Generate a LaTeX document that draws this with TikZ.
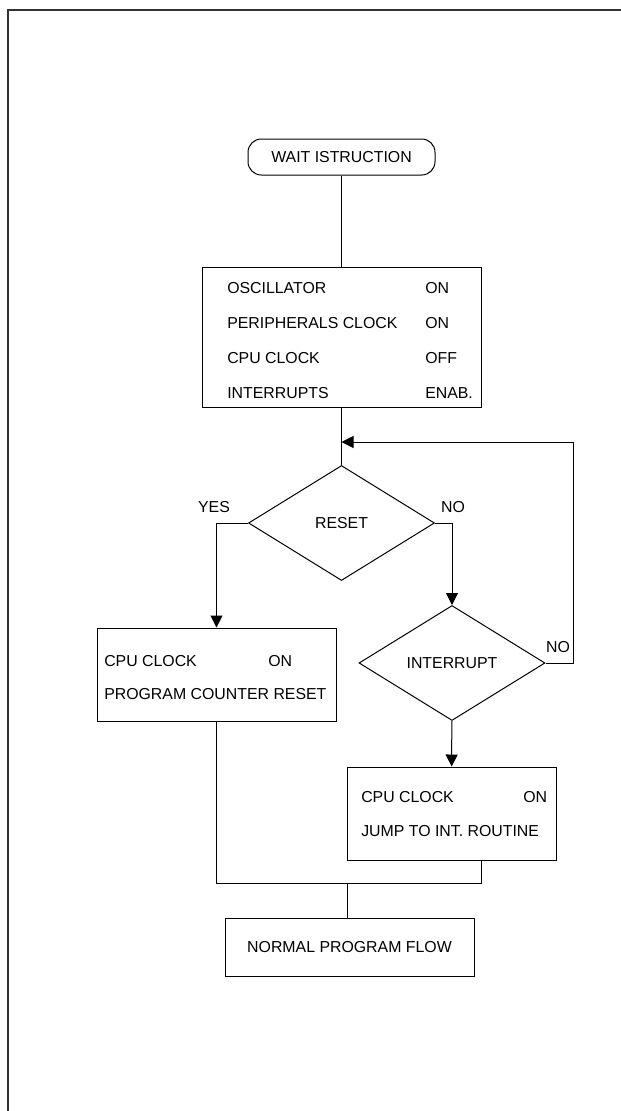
\documentclass[tikz,border=0pt]{standalone}
\usepackage{fontspec}
\setmainfont{Liberation Sans}
\usetikzlibrary{shapes.geometric,arrows.meta,calc}
\newlength\pxu
\setlength\pxu{0.75pt}
\begin{document}
\begin{tikzpicture}[x=0.75pt, y=-0.75pt, >={Triangle[length=9pt,width=9pt]},
    every node/.style={font=\fontsize{11.9}{14}\selectfont},
    line/.style={line width=0.75pt},
    box/.style={draw, line width=0.75pt, inner sep=0pt},
    test/.style={draw, diamond, aspect=1.6, inner sep=0pt, line width=0.75pt,
        minimum width=186\pxu, minimum height=115\pxu},
    txt/.style={anchor=west, inner sep=0pt}]
\useasboundingbox (0,0) rectangle (621,1111);
\draw[line width=1.5pt, black!80] (8,1111) -- (8,10) -- (621,10);

\node[box, rounded corners=10pt, minimum width=187\pxu, minimum height=36\pxu] (wait) at (341.5,157) {WAIT ISTRUCTION};

% state while waiting
\node[box, minimum width=279\pxu, minimum height=140\pxu] (idle) at (341.5,337) {};
\foreach \name/\state [count=\i] in {OSCILLATOR/ON, PERIPHERALS CLOCK/ON, CPU CLOCK/OFF, INTERRUPTS/ENAB.}
{
    \node[txt] (idle\i) at (227,253+35*\i) {\name};
    \node[txt] (idlestate\i) at (425,253+35*\i) {\state};
}

\node[test] (reset) at (341.5,523) {RESET};
\node[test] (intr) at (452,663) {INTERRUPT};

% exit through reset
\node[box, minimum width=239\pxu, minimum height=93\pxu] (restart) at (216.5,674.5) {};
\node[txt] (restart1) at (104,661) {CPU CLOCK};
\node[txt] (restartstate) at (268,661) {ON};
\node[txt] (restart2) at (104,694) {PROGRAM COUNTER RESET};

% exit through interrupt
\node[box, minimum width=209\pxu, minimum height=93\pxu] (service) at (451.5,813.5) {};
\node[txt] (service1) at (361,797) {CPU CLOCK};
\node[txt] (servicestate) at (523,797) {ON};
\node[txt] (service2) at (361,831) {JUMP TO INT. ROUTINE};

\node[box, minimum width=249\pxu, minimum height=58\pxu] (normal) at (349.5,947) {NORMAL PROGRAM FLOW};

\node (yes) at (214,507) {YES};
\node (no1) at (453,507) {NO};
\node (no2) at (558,647) {NO};

\coordinate (back) at (341.5,442);
\coordinate (loop) at (573,442);
\coordinate (join) at (347,883);

\draw[line] (wait) -- (idle);
\draw[line] (idle) -- (reset);
\draw[line,->] (reset.west) -| (restart.north);
\draw[line,->] (reset.east) -| (intr.north);
\draw[line,->] (intr.east) -| (loop) -- (back);
\draw[line,->] (intr) -- (service);
\draw[line] (restart.south) |- (join) -| ($(service.south)+(29.5,0)$);
\draw[line] (join) -- (join |- normal.north);
\end{tikzpicture}
\end{document}
